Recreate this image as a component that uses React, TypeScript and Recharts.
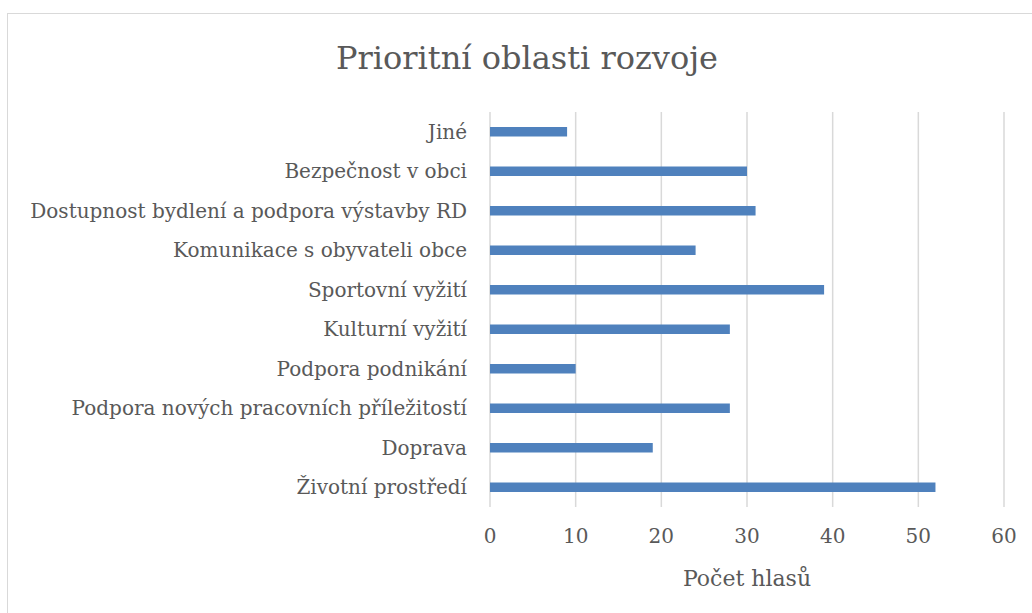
import React from 'react';
import { BarChart, Bar, XAxis, YAxis, CartesianGrid } from 'recharts';

const categories = [
  'Jiné',
  'Bezpečnost v obci',
  'Dostupnost bydlení a podpora výstavby RD',
  'Komunikace s obyvateli obce',
  'Sportovní vyžití',
  'Kulturní vyžití',
  'Podpora podnikání',
  'Podpora nových pracovních příležitostí',
  'Doprava',
  'Životní prostředí',
];
const votes = [9, 30, 31, 24, 39, 28, 10, 28, 19, 52];
const xTicks = [0, 10, 20, 30, 40, 50, 60];

const data = categories.map((name, i) => ({ name, value: votes[i] }));

const font = '"DejaVu Serif", serif';
const textColor = '#595959';

export default function App() {
  return (
    <div style={{ position: 'fixed', left: 0, top: 0, width: 1032, height: 613, overflow: 'hidden', background: '#fff' }}>
      <div
        style={{
          position: 'absolute',
          left: 7,
          top: 13,
          width: 1060,
          height: 640,
          border: '1px solid #d9d9d9',
        }}
      />
      <div
        style={{
          position: 'absolute',
          left: 0,
          top: 38,
          width: 1054,
          textAlign: 'center',
          fontFamily: font,
          fontSize: 32,
          color: textColor,
          lineHeight: '40px',
        }}
      >
        Prioritní oblasti rozvoje
      </div>
      <div style={{ position: 'absolute', left: 0, top: 0 }}>
        <BarChart
          width={1032}
          height={613}
          data={data}
          layout="vertical"
          margin={{ top: 112, right: 28, bottom: 27, left: 0 }}
          barCategoryGap="62%"
        >
          <CartesianGrid horizontal={false} stroke="#d9d9d9" strokeWidth={1.5} />
          <XAxis
            type="number"
            domain={[0, 60]}
            ticks={xTicks}
            axisLine={false}
            tickLine={false}
            tickMargin={16}
            height={79}
            tick={{ fill: textColor, fontSize: 20, fontFamily: font }}
            label={{
              value: 'Počet hlasů',
              position: 'insideBottom',
              offset: 0,
              fill: textColor,
              fontSize: 22,
              fontFamily: font,
            }}
          />
          <YAxis
            type="category"
            dataKey="name"
            width={490}
            axisLine={false}
            tickLine={false}
            tickMargin={17}
            interval={0}
            tick={{ fill: textColor, fontSize: 20, fontFamily: font }}
          />
          <Bar dataKey="value" fill="#4f81bd" isAnimationActive={false} />
        </BarChart>
      </div>
    </div>
  );
}
